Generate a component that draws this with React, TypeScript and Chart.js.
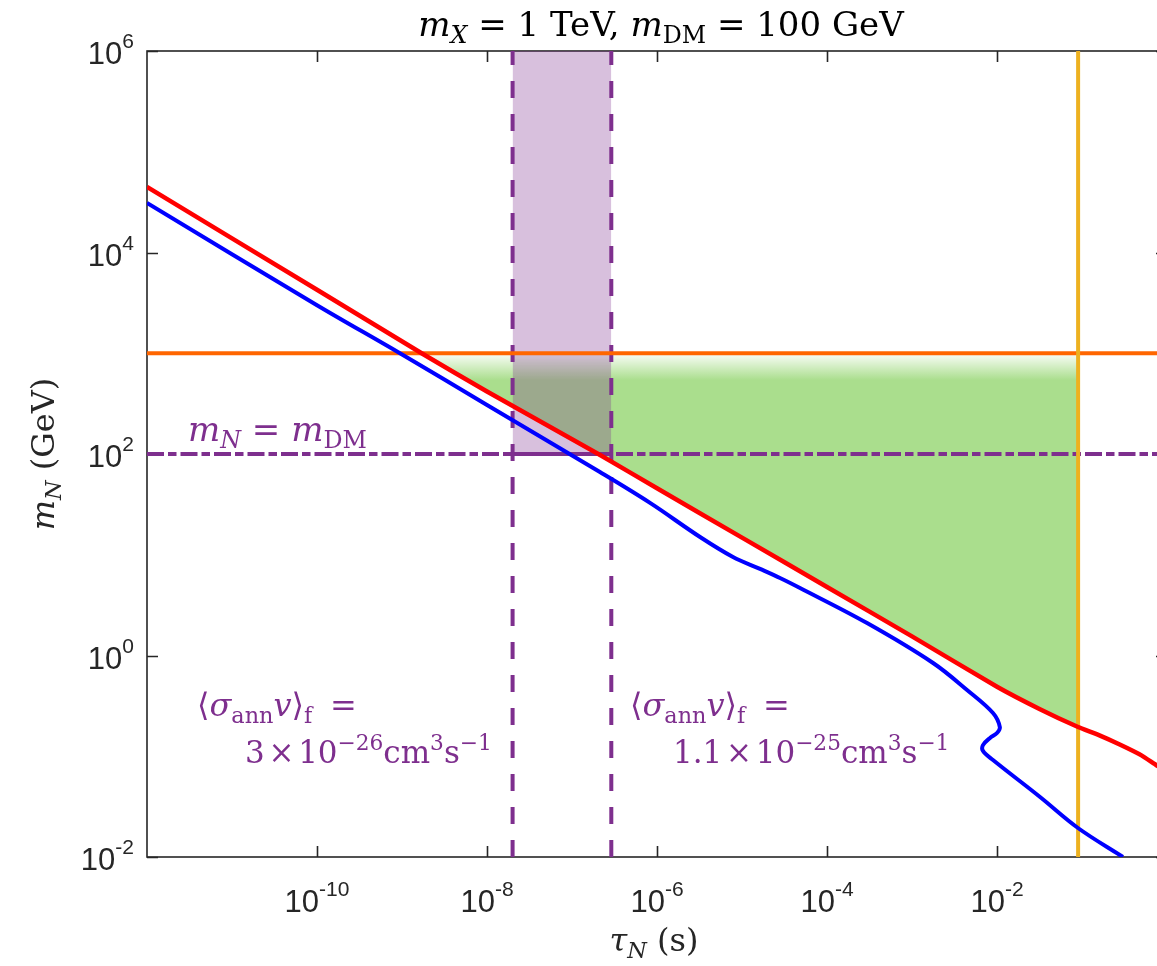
import React, { useEffect, useRef } from "react";
import { Chart, registerables } from "chart.js";

Chart.register(...registerables);

// ---------- data ----------
const xRange = [1e-12, 1];
const yRange = [1e-2, 1e6];

const redTau = [1e-12, 1e-10, 1.7e-9, 1e-8, 2.14e-7, 1e-6, 1e-5, 1e-4, 1e-3, 1e-2, 3.16e-2, 0.09, 0.158, 0.282, 0.501, 0.759, 1];
const redMass = [4.47e4, 4.27e3, 1000, 417, 97.7, 45.7, 14.8, 4.79, 1.55, 0.49, 0.295, 0.195, 0.162, 0.13, 0.102, 0.081, 0.071];

const blueTau = [1e-12, 1e-10, 9.46e-10, 1e-8, 2.13e-7, 8.28e-7, 3.21e-6, 7.83e-6, 1.63e-5, 2.8e-5, 4.81e-5, 2.96e-4, 1.77e-3, 4.44e-3, 8.97e-3, 1.08e-2, 1.0e-2, 8.28e-3, 6.84e-3, 6.84e-3, 8.97e-3, 3.21e-2, 8.97e-2, 0.303];
const blueMass = [3.1e4, 3.0e3, 1000, 307, 66.2, 32.7, 15.0, 9.5, 7.23, 5.88, 4.68, 2.1, 0.843, 0.455, 0.269, 0.195, 0.17, 0.152, 0.129, 0.113, 0.0918, 0.0394, 0.0194, 0.01];

const greenTau = [1.7e-9, 1e-8, 2.14e-7, 1e-6, 1e-5, 1e-4, 1e-3, 1e-2, 3.16e-2, 0.09];
const greenMass = [1000, 417, 97.7, 45.7, 14.8, 4.79, 1.55, 0.49, 0.295, 0.195];

const bandTau = [2.0e-8, 2.9e-7];
const massDM = 100;
const massX = 1000;
const tauLimit = 0.09;
const greenFadeMass = 540;

const xTicks = [1e-10, 1e-8, 1e-6, 1e-4, 1e-2];
const xTickExp = ["-10", "-8", "-6", "-4", "-2"];
const yTicks = [1e6, 1e4, 1e2, 1e0, 1e-2];
const yTickExp = ["6", "4", "2", "0", "-2"];

// ---------- styles ----------
const PURPLE = "rgb(126,47,142)";
const MATH = '"DejaVu Serif", "Liberation Serif", serif';
const SANS = '"Liberation Sans", Arial, sans-serif';
const AXIS = "rgb(38,38,38)";

type Seg = { t: string; it?: boolean; sub?: boolean; sup?: boolean; size?: number; dy?: number; gap?: number };

function drawRich(ctx: CanvasRenderingContext2D, segs: Seg[], x: number, y: number, size: number, family: string, color: string, align: "left" | "center" | "right" = "left") {
  const parts = segs.map((s) => {
    const fs = s.size ?? (s.sub || s.sup ? size * 0.7 : size);
    const font = `${s.it ? "italic " : ""}${fs}px ${family}`;
    ctx.font = font;
    const w = ctx.measureText(s.t).width;
    const dy = s.dy ?? (s.sub ? size * 0.22 : s.sup ? -size * 0.42 : 0);
    return { t: s.t, font, w, dy, gap: (s.gap ?? 0) * size };
  });
  const total = parts.reduce((a, p) => a + p.w + p.gap, 0);
  let cx = align === "center" ? x - total / 2 : align === "right" ? x - total : x;
  ctx.fillStyle = color;
  ctx.textBaseline = "alphabetic";
  ctx.textAlign = "left";
  for (const p of parts) {
    cx += p.gap;
    ctx.font = p.font;
    ctx.fillText(p.t, cx, y + p.dy);
    cx += p.w;
  }
}

const pts = (xs: number[], ys: number[]) => xs.map((x, i) => ({ x, y: ys[i] }));

const framePlugin = {
  id: "frame",
  beforeDatasetsDraw(chart: any) {
    const { ctx, chartArea: a, scales } = chart;
    const x = scales.x, y = scales.y;
    ctx.save();
    ctx.strokeStyle = AXIS;
    ctx.lineWidth = 1.6;
    ctx.strokeRect(a.left, a.top, a.right - a.left, a.bottom - a.top);
    const tl = 11;
    ctx.beginPath();
    xTicks.forEach((v) => {
      const px = Math.round(x.getPixelForValue(v)) + 0.5;
      ctx.moveTo(px, a.bottom); ctx.lineTo(px, a.bottom - tl);
      ctx.moveTo(px, a.top); ctx.lineTo(px, a.top + tl);
    });
    yTicks.forEach((v) => {
      const py = Math.round(y.getPixelForValue(v)) + 0.5;
      ctx.moveTo(a.left, py); ctx.lineTo(a.left + tl, py);
      ctx.moveTo(a.right, py); ctx.lineTo(a.right - tl, py);
    });
    ctx.stroke();
    ctx.restore();
  },
  afterDraw(chart: any) {
    const { ctx, chartArea: a, scales } = chart;
    const x = scales.x, y = scales.y;
    ctx.save();
    // tick labels
    xTicks.forEach((v, i) => {
      drawRich(ctx, [{ t: "10", size: 31 }, { t: xTickExp[i], size: 21, dy: -16 }], x.getPixelForValue(v), a.bottom + 55, 31, SANS, AXIS, "center");
    });
    yTicks.forEach((v, i) => {
      drawRich(ctx, [{ t: "10", size: 31 }, { t: yTickExp[i], size: 21, dy: -16 }], a.left - 13, y.getPixelForValue(v) + 13, 31, SANS, AXIS, "right");
    });
    // title
    drawRich(ctx, [
      { t: "m", it: true }, { t: "X", it: true, sub: true }, { t: " = 1 TeV, " },
      { t: "m", it: true }, { t: "DM", sub: true }, { t: " = 100 GeV" },
    ], 661, 36, 34, MATH, "#000", "center");
    // axis titles
    drawRich(ctx, [{ t: "τ", it: true }, { t: "N", it: true, sub: true }, { t: " (s)" }], 654, 951, 32, MATH, AXIS, "center");
    ctx.save();
    ctx.translate(54, 454);
    ctx.rotate(-Math.PI / 2);
    drawRich(ctx, [{ t: "m", it: true }, { t: "N", it: true, sub: true }, { t: " (GeV)" }], 0, 0, 32, MATH, AXIS, "center");
    ctx.restore();
    // annotations
    drawRich(ctx, [{ t: "m", it: true }, { t: "N", it: true, sub: true }, { t: " = " }, { t: "m", it: true }, { t: "DM", sub: true }], 188, 441, 34, MATH, PURPLE, "left");
    const sig: Seg[] = [{ t: "⟨" }, { t: "σ", it: true }, { t: "ann", sub: true }, { t: "v", it: true }, { t: "⟩" }, { t: "f", sub: true }, { t: "=", gap: 0.55 }];
    drawRich(ctx, sig, 197, 716, 32, MATH, PURPLE, "left");
    const line2a: Seg[] = [{ t: "3" }, { t: "×", gap: 0.12 }, { t: "10", gap: 0.12 }, { t: "−26", sup: true }, { t: "cm" }, { t: "3", sup: true }, { t: "s" }, { t: "−1", sup: true }];
    const line2b: Seg[] = [{ t: "1.1" }, { t: "×", gap: 0.12 }, { t: "10", gap: 0.12 }, { t: "−25", sup: true }, { t: "cm" }, { t: "3", sup: true }, { t: "s" }, { t: "−1", sup: true }];
    drawRich(ctx, line2a, 245, 763, 31, MATH, PURPLE, "left");
    drawRich(ctx, sig, 630, 716, 32, MATH, PURPLE, "left");
    drawRich(ctx, line2b, 673, 763, 31, MATH, PURPLE, "left");
    ctx.restore();
  },
};

export default function App() {
  const ref = useRef<HTMLCanvasElement>(null);
  useEffect(() => {
    if (!ref.current) return;
    const greenFill = (c: any) => {
      const ch = c.chart;
      const { ctx, chartArea, scales } = ch;
      if (!chartArea) return "rgb(170,222,141)";
      const y0 = scales.y.getPixelForValue(massX);
      const y1 = scales.y.getPixelForValue(greenFadeMass);
      const g = ctx.createLinearGradient(0, y0, 0, y1);
      g.addColorStop(0, "rgba(170,222,141,0.05)");
      g.addColorStop(1, "rgba(170,222,141,1)");
      return g;
    };
    const chart = new Chart(ref.current, {
      type: "scatter",
      data: {
        datasets: [
          { label: "green", data: pts(greenTau, greenMass), showLine: true, borderWidth: 0, borderColor: "rgba(0,0,0,0)", backgroundColor: greenFill, fill: { value: massX }, tension: 0.15, order: 20 } as any,
          { label: "band", data: pts(bandTau, [massDM, massDM]), showLine: true, borderWidth: 4, borderColor: PURPLE, backgroundColor: "rgba(126,47,142,0.3)", fill: "end", order: 19 } as any,
          { label: "lowDash", data: pts([bandTau[0], bandTau[0]], yRange), showLine: true, borderWidth: 4, borderColor: PURPLE, borderDash: [17, 16], order: 18 },
          { label: "highDash", data: pts([bandTau[1], bandTau[1]], yRange), showLine: true, borderWidth: 4, borderColor: PURPLE, borderDash: [17, 16], order: 17 },
          { label: "mDM", data: pts(xRange, [massDM, massDM]), showLine: true, borderWidth: 4, borderColor: PURPLE, borderDash: [17, 4, 8.5, 4], order: 16 },
          { label: "mX", data: pts(xRange, [massX, massX]), showLine: true, borderWidth: 4, borderColor: "rgb(255,102,0)", order: 15 },
          { label: "tauLimit", data: pts([tauLimit, tauLimit], yRange), showLine: true, borderWidth: 4, borderColor: "rgb(237,177,32)", order: 14 },
          { label: "blue", data: pts(blueTau, blueMass), showLine: true, borderWidth: 4, borderColor: "rgb(0,0,255)", tension: 0.35, order: 13 },
          { label: "red", data: pts(redTau, redMass), showLine: true, borderWidth: 4.5, borderColor: "rgb(255,0,0)", tension: 0.15, order: 12 },
        ],
      },
      options: {
        responsive: false,
        devicePixelRatio: 1,
        animation: false,
        layout: { padding: { left: 147, right: 1, top: 51, bottom: 109 } },
        elements: { point: { radius: 0, hoverRadius: 0 } },
        scales: {
          x: { type: "logarithmic", min: xRange[0], max: xRange[1], display: false },
          y: { type: "logarithmic", min: yRange[0], max: yRange[1], display: false },
        },
        plugins: { legend: { display: false }, tooltip: { enabled: false } },
      },
      plugins: [framePlugin],
    });
    return () => chart.destroy();
  }, []);
  return (
    <div style={{ position: "absolute", left: 0, top: 0, width: 1157, height: 966, overflow: "hidden", background: "#fff" }}>
      <canvas ref={ref} width={1168} height={966} style={{ display: "block" }} />
    </div>
  );
}
